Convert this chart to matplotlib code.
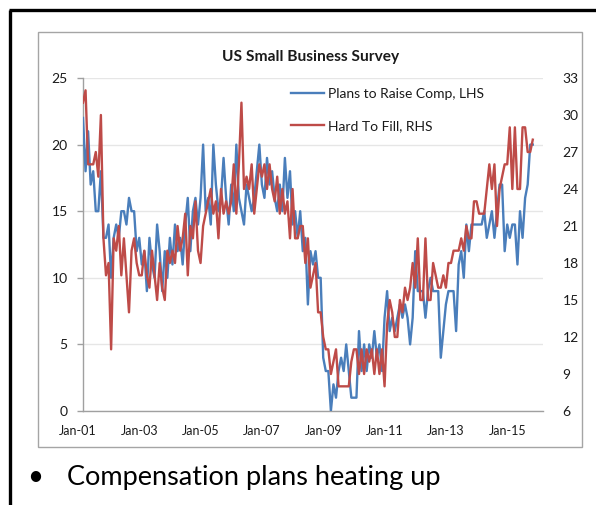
import matplotlib
matplotlib.use("Agg")
import matplotlib.pyplot as plt
import matplotlib.transforms as mtransforms
from matplotlib.lines import Line2D
from matplotlib.patches import Rectangle

plt.rcParams['font.family'] = ['Lato', 'DejaVu Sans']

# Monthly survey readings, Jan 2001 onward
plans_to_raise_comp = [
    22, 18, 21, 17, 18, 15, 15, 18, 13, 13, 14, 10,   # 2001
    13, 14, 13, 15, 15, 14, 16, 15, 15, 12, 13, 11,   # 2002
    12, 9, 13, 11, 10, 14, 12, 9, 12, 10, 13, 11,     # 2003
    14, 12, 13, 11, 14, 16, 12, 15, 16, 14, 16, 20,   # 2004
    15, 16, 14, 20, 17, 15, 16, 19, 16, 14, 17, 15,   # 2005
    20, 16, 15, 14, 17, 16, 15, 16, 18, 20, 17, 16,   # 2006
    19, 17, 18, 16, 15, 17, 15, 19, 16, 18, 14, 15,   # 2007
    13, 15, 12, 13, 8, 12, 11, 12, 10, 10, 4, 3,      # 2008
    3, 0, 2, 1, 3, 4, 3, 5, 3, 1, 1, 1,               # 2009
    6, 3, 5, 3, 5, 4, 6, 4, 5, 3, 7, 9,               # 2010
    6, 7, 6, 7, 8, 7, 8, 7, 5, 7, 12, 9,              # 2011
    9, 9, 7, 9, 10, 9, 9, 9, 4, 6, 8, 9,              # 2012
    9, 9, 6, 11, 12, 10, 14, 12, 14, 14, 14, 14,      # 2013
    14, 15, 13, 14, 15, 13, 15, 17, 17, 12, 14, 13,   # 2014
    14, 14, 11, 15, 13, 16, 17, 20, 20,               # 2015
]
hard_to_fill = [
    31, 32, 26, 26, 26, 27, 25, 30, 20, 17, 18, 11,   # 2001
    20, 19, 21, 17, 20, 17, 14, 19, 20, 18, 17, 17,   # 2002
    19, 17, 16, 19, 17, 15, 18, 16, 15, 19, 18, 19,   # 2003
    18, 21, 19, 20, 22, 17, 21, 20, 23, 19, 18, 21,   # 2004
    22, 23, 24, 22, 23, 20, 24, 22, 23, 22, 23, 26,   # 2005
    22, 26, 31, 24, 25, 24, 26, 22, 24, 26, 25, 26,   # 2006
    24, 26, 24, 23, 25, 22, 24, 22, 23, 20, 24, 20,   # 2007
    20, 21, 21, 18, 20, 16, 17, 18, 14, 14, 12, 11,   # 2008
    11, 9, 10, 11, 8, 8, 8, 8, 8, 10, 11, 11,         # 2009
    9, 11, 9, 11, 10, 11, 9, 11, 9, 11, 8, 13,        # 2010
    15, 14, 12, 12, 15, 14, 16, 15, 16, 18, 16, 20,   # 2011
    15, 15, 20, 15, 15, 18, 17, 16, 16, 17, 16, 18,   # 2012
    18, 19, 19, 19, 20, 19, 21, 20, 20, 23, 23, 22,   # 2013
    22, 22, 24, 26, 24, 26, 21, 24, 25, 26, 26, 29,   # 2014
    24, 29, 24, 24, 29, 29, 27, 27, 28,               # 2015
]
tick_labels = ['Jan-01', 'Jan-03', 'Jan-05', 'Jan-07',
               'Jan-09', 'Jan-11', 'Jan-13', 'Jan-15']
left_ticks = [0, 5, 10, 15, 20, 25]
right_ticks = [6, 9, 12, 15, 18, 21, 24, 27, 30, 33]

title = 'US Small Business Survey'
label_comp = 'Plans to Raise Comp, LHS'
label_fill = 'Hard To Fill, RHS'
bullet_text = 'Compensation plans heating up'

W, H = 596, 505
fig = plt.figure(figsize=(W / 100, H / 100), dpi=100)


def fx(px):
    return px / W


def fy(py):
    return 1 - py / H


# slide frame (left and top edges)
fig.add_artist(Line2D([fx(10), fx(10)], [fy(10), 0], color='black', lw=2.4,
                      transform=fig.transFigure, solid_capstyle='butt'))
fig.add_artist(Line2D([fx(9), 1], [fy(10), fy(10)], color='black', lw=2.4,
                      transform=fig.transFigure, solid_capstyle='butt'))

# chart box
fig.add_artist(Rectangle((fx(38), fy(447)), fx(582) - fx(38), fy(32) - fy(447),
                         transform=fig.transFigure, fill=False,
                         edgecolor='#a5a5a5', lw=1.0))

ax = fig.add_axes([fx(83), fy(411), fx(543) - fx(83), fy(78) - fy(411)])
ax2 = ax.twinx()

months = list(range(len(plans_to_raise_comp)))
blue = '#4a7ebb'
red = '#be4b48'
l1, = ax.plot(months, plans_to_raise_comp, color=blue, lw=1.7, zorder=3)
l2, = ax2.plot(months[:len(hard_to_fill)], hard_to_fill, color=red, lw=1.7,
               zorder=3)

ax.set_xlim(0, 180)
ax.set_ylim(0, 25)
ax2.set_ylim(6, 33)
ax.set_yticks(left_ticks)
ax2.set_yticks(right_ticks)
ax.set_xticks([24 * k for k in range(len(tick_labels))])
ax.set_xticklabels(tick_labels)

ax.grid(axis='y', color='#e6e6e6', lw=1.0)
ax.set_axisbelow(True)

for s in ['top', 'right']:
    ax.spines[s].set_visible(False)
for s in ['top', 'right', 'left', 'bottom']:
    ax2.spines[s].set_visible(False)
ax.spines['left'].set_color('#a0a0a0')
ax.spines['bottom'].set_color('#a0a0a0')
ax.spines['left'].set_linewidth(1.0)
ax.spines['bottom'].set_linewidth(1.0)

ax.tick_params(axis='y', length=4, width=1, color='#a0a0a0', pad=7,
               labelsize=10, labelcolor='#1a1a1a')
ax.tick_params(axis='x', length=0, pad=10, labelsize=9, labelcolor='#1a1a1a')
ax2.tick_params(axis='y', length=0, pad=14, labelsize=10, labelcolor='#1a1a1a')

shift = mtransforms.ScaledTranslation(-5 / 100, 0, fig.dpi_scale_trans)
for lab in ax.get_xticklabels():
    lab.set_transform(lab.get_transform() + shift)

fig.text(fx(311), fy(57), title, ha='center', va='center', fontsize=11.2,
         fontweight='bold', color='#1a1a1a')

fig.legend([l1, l2], [label_comp, label_fill], loc='upper left',
           bbox_to_anchor=(fx(291), fy(88)), frameon=False, fontsize=10,
           handlelength=2.4, handletextpad=0.25, labelspacing=1.45,
           borderpad=0, borderaxespad=0, labelcolor='#1a1a1a')

fig.text(fx(35), fy(477), '\u2022', ha='center', va='center', fontsize=20,
         color='black')
fig.text(fx(67), fy(477), bullet_text, ha='left', va='center', fontsize=19.5,
         color='black')

fig.savefig('out.png', dpi=100)
